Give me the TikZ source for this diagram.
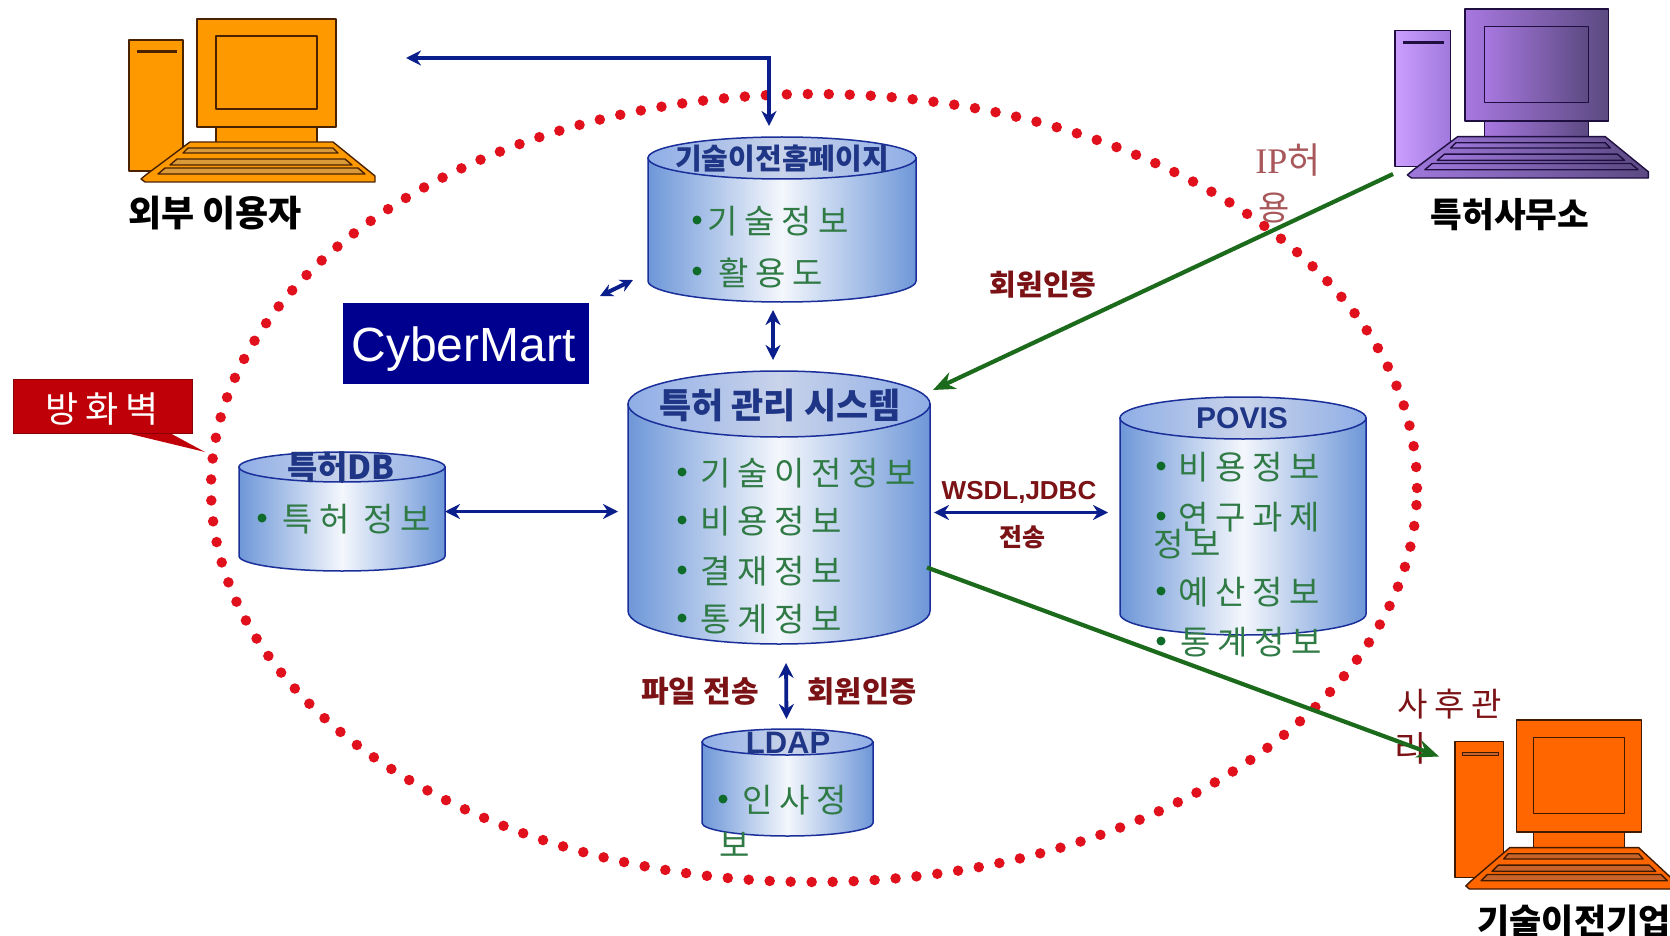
\documentclass[tikz,border=0pt]{standalone}
\usepackage{fontspec}
\setmainfont{Noto Sans CJK KR}
\newfontfamily\hgsp[LetterSpace=20]{Noto Sans CJK KR}
\newfontfamily\latinf{Liberation Sans}
\newfontfamily\latins{Liberation Serif}
\usetikzlibrary{arrows.meta,calc}
\definecolor{cylline}{HTML}{1A2F9A}
\definecolor{cyledge}{HTML}{6E97D8}
\definecolor{cylmid}{HTML}{F4F7FC}
\definecolor{cyltop}{HTML}{8FAEE6}
\definecolor{cyltopmid}{HTML}{C9D3EA}
\definecolor{titleblue}{HTML}{1F3585}
\definecolor{txtgreen}{HTML}{2F7A45}
\definecolor{dotgreen}{HTML}{0F6B2A}
\definecolor{arrowblue}{HTML}{0A1F8C}
\definecolor{arrowgreen}{HTML}{1C6B1C}
\definecolor{labelred}{HTML}{7B1215}
\definecolor{iplabel}{HTML}{A8585A}
\definecolor{dotred}{HTML}{E0101C}
\definecolor{wallred}{HTML}{C00008}
\definecolor{cmblue}{HTML}{00008F}
\definecolor{orangeA}{HTML}{FF9900}
\definecolor{orangeB}{HTML}{FF6600}
\definecolor{rowA}{HTML}{DB9A3A}
\definecolor{rowB}{HTML}{C8642A}
\definecolor{lineA}{HTML}{4A2200}
\definecolor{lineB}{HTML}{401A00}
\definecolor{lineP}{HTML}{1E0F40}
\definecolor{pTowerL}{HTML}{CB9EFF}
\definecolor{pTowerR}{HTML}{A078DC}
\definecolor{pMonL}{HTML}{A878E0}
\definecolor{pMonR}{HTML}{5C4A82}
\newcommand{\fs}[1]{\fontsize{#1}{#1}\selectfont}
\tikzset{
  boxnode/.style={inner sep=0pt,outer sep=0pt,draw=none},
  blarrow/.style={draw=arrowblue,line width=3.8pt,{Stealth[length=15pt,width=15pt]}-{Stealth[length=15pt,width=15pt]}},
  grarrow/.style={draw=arrowgreen,line width=4.2pt,-{Stealth[length=22pt,width=18pt]}},
  gtext/.style={inner sep=0pt,text=txtgreen,anchor=west,font=\hgsp\fs{33},yshift=-1.5pt},
  gdot/.style={circle,fill=dotgreen,inner sep=0pt,minimum size=9pt},
  ctitle/.style={inner sep=0pt,text=titleblue,font=\bfseries\fs{#1}},
  rlabel/.style={inner sep=0pt,text=labelred,font=\bfseries\fs{#1},yshift=-1pt},
  pclabel/.style={inner sep=0pt,text=black,font=\bfseries\fs{#1}},
}
% name, x1, x2, ytop, ry, ybot
\newcommand{\cylinder}[6]{%
  \pgfmathsetmacro{\ccx}{(#2+#3)/2}%
  \pgfmathsetmacro{\crx}{(#3-#2)/2}%
  \pgfmathsetmacro{\cc}{#4+#5}%
  \pgfmathsetmacro{\cb}{#6-#5}%
  \pgfmathsetmacro{\ckx}{0.5523*\crx}%
  \pgfmathsetmacro{\cky}{0.5523*#5}%
  \path[draw=cylline,line width=1.5pt,left color=cyledge,right color=cyledge,middle color=cylmid]
    (#2,\cc) -- (#2,\cb)
    .. controls (#2,\cb+\cky) and (\ccx-\ckx,#6) .. (\ccx,#6)
    .. controls (\ccx+\ckx,#6) and (#3,\cb+\cky) .. (#3,\cb)
    -- (#3,\cc) -- cycle;
  \path[draw=cylline,line width=1.5pt,left color=cyltop,right color=cyltop,middle color=cyltopmid]
    (\ccx,\cc) ellipse [x radius=\crx pt,y radius=#5 pt];
  \pgfmathsetmacro{\cw}{#3-#2}%
  \pgfmathsetmacro{\ch}{#6-#4}%
  \pgfmathsetmacro{\cmy}{(#4+#6)/2}%
  \node[boxnode,minimum width=\cw pt,minimum height=\ch pt] (#1) at (\ccx,\cmy) {};
}
% name, x, y, sx, sy, outline, tower, monitor, screen, keyboard, row, led
\newcommand{\computer}[9]{%
  \def\cpname{#1}\def\cpx{#2}\def\cpy{#3}\def\cpsx{#4}\def\cpsy{#5}\def\cpline{#6}%
  \def\cpT{#7}\def\cpM{#8}\def\cpS{#9}\computerrest}
\newcommand{\computerrest}[3]{%
  \begin{scope}[shift={(\cpx,\cpy)},x=\cpsx pt,y=-\cpsy pt,line width=1.4pt,draw=\cpline,line join=round]
    \expandafter\path\expandafter[\cpT,draw=\cpline] (0,21) rectangle (54,152);
    \path[#3] (8,31) rectangle (48,34);
    \expandafter\path\expandafter[\cpM,draw=\cpline] (87,108) rectangle (188,124);
    \expandafter\path\expandafter[\cpM,draw=\cpline] (68,0) rectangle (207,108);
    \expandafter\path\expandafter[\cpS,draw=\cpline] (87,17) rectangle (188,90);
    \path[#1,draw=\cpline] (61,123) -- (204,123) -- (246,157) -- (246,163) -- (16,163) -- (12,160) -- (18,155) -- cycle;
    \path[#2,draw=\cpline] (59,129) -- (204,129) -- (209,134) -- (54,134) -- cycle;
    \path[#2,draw=\cpline] (48,140) -- (216,140) -- (223,146) -- (41,146) -- cycle;
    \path[#2,draw=\cpline] (36,149) -- (229,149) -- (236,155) -- (29,155) -- cycle;
  \end{scope}
  \pgfmathsetmacro{\cw}{246*\cpsx}%
  \pgfmathsetmacro{\ch}{163*\cpsy}%
  \node[boxnode,minimum width=\cw pt,minimum height=\ch pt] (\cpname) at ({\cpx+\cw/2},{\cpy+\ch/2}) {};
}
% name, bullet x, text x, y, text
\newcommand{\gline}[5]{%
  \node[gdot] (#1-dot) at (#2,#4) {};
  \node[gtext] (#1) at (#3,#4) {#5};
}
\begin{document}
\begin{tikzpicture}[x=1pt,y=-1pt]
\useasboundingbox (0,0) rectangle (1670,936);
\clip (0,0) rectangle (1670,936);
\fill[white] (0,0) rectangle (1670,936);

% firewall boundary
\draw[dotred,line width=10.5pt,line cap=round,dash pattern=on 0pt off 21pt] (814,488) ellipse [x radius=603pt,y radius=394pt];

% computers
\computer{ext}{129}{19}{1}{1}{lineA}
  {fill=orangeA}{fill=orangeA}{fill=orangeA}{fill=orangeA}{fill=rowA}{fill=lineA,draw=none}
\computer{office}{1395}{9}{1.03}{1.037}{lineP}
  {left color=pTowerL,right color=pTowerR}
  {left color=pMonL,right color=pMonR}
  {left color=pMonL,right color=pMonR}
  {left color=pTowerR,right color=pMonR}
  {left color=pTowerR,right color=pMonR}
  {fill=lineP,draw=none}
\computer{firm}{1455}{720}{0.9}{1.037}{lineB}
  {fill=orangeB}{fill=orangeB}{fill=orangeB}{fill=orangeB}{fill=rowB}{fill=rowB,draw=lineB,line width=1.2pt}

\node[pclabel=36,anchor=center] (extlabel) at (215,213) {외부 이용자};
\node[pclabel=34.5,anchor=center] (officelabel) at (1510,215) {특허사무소};
\node[pclabel=35,anchor=center] (firmlabel) at (1574,921) {기술이전기업};

% CyberMart
\node[boxnode,fill=cmblue,minimum width=246pt,minimum height=81pt] (cm) at (466,343.5) {};
\node[inner sep=0pt,text=white,font=\latinf\fs{48}] (cmtext) at (463.5,349) {CyberMart};

% firewall callout
\fill[wallred] (122,432) -- (205,452) -- (168,432) -- cycle;
\node[boxnode,fill=wallred,draw=black!30!wallred,line width=1pt,minimum width=179pt,minimum height=54pt] (wall) at (103,406) {};
\node[inner sep=0pt,text=white,font=\hgsp\fs{36}] (walltext) at (102,409) {방화벽};

% cylinders
\cylinder{home}{648}{916}{137}{21}{302}
\cylinder{mainsys}{628}{930}{371}{33}{644}
\cylinder{povis}{1120}{1366}{397}{21}{635}
\cylinder{patdb}{239}{445}{452}{15}{571}
\cylinder{ldap}{702}{873}{729}{13}{836}

% cylinder titles
\node[ctitle=29] (hometitle) at (782,159) {기술이전홈페이지};
\node[ctitle=35] (maintitle) at (780,405) {특허 관리 시스템};
\node[ctitle=30,font=\latinf\bfseries\fs{30}] (povistitle) at (1242,418) {POVIS};
\node[ctitle=33] (dbtitle) at (341,467) {특허DB};
\node[ctitle=31,font=\latinf\bfseries\fs{31}] (ldaptitle) at (788,743) {LDAP};

% cylinder contents
\gline{h1}{697}{707}{220}{기술정보}
\gline{h2}{697}{718}{271}{활용도}
\gline{m1}{682}{700}{472}{기술이전정보}
\gline{m2}{682}{700}{520}{비용정보}
\gline{m3}{682}{700}{570}{결재정보}
\gline{m4}{682}{700}{618}{통계정보}
\gline{p1}{1161}{1178}{466}{비용정보}
\gline{p2}{1161}{1178}{516}{연구과제}
\node[gtext] (p2b) at (1153,543) {정보};
\gline{p3}{1161}{1178}{591}{예산정보}
\gline{p4}{1161}{1180}{641}{통계정보}
\gline{d1}{262}{282}{518}{특허 정보}
\gline{l1}{723}{742}{799}{인사정}
\node[gtext] (l1b) at (719,843) {보};

% labels
\node[rlabel=29] (auth1) at (1043,284) {회원인증};
\node[rlabel=26,font=\latinf\bfseries\fs{26}] (wsdl) at (1019,491) {WSDL,JDBC};
\node[rlabel=25] (xfer) at (1022,536) {전송};
\node[rlabel=30] (file) at (700,690) {파일 전송};
\node[rlabel=29.5] (auth2) at (862,690) {회원인증};
\node[inner sep=0pt,text=iplabel,font=\fs{36}] (ip1) at (1288,160) {{\latins IP}허};
\node[inner sep=0pt,text=iplabel,font=\fs{34}] (ip2) at (1274,208) {용};
\node[inner sep=0pt,text=labelred,font=\hgsp\fs{33}] (after1) at (1450,704) {사후관};
\node[inner sep=0pt,text=labelred,font=\fs{35}] (after2) at (1411,748) {리};

% connectors
\draw[blarrow,line width=3.2pt] ([xshift=31pt,yshift=-39pt]ext.north east) -| ([xshift=-13pt,yshift=11pt]home.north);
\draw[draw=arrowblue,line width=4pt,{Stealth[length=13pt,width=13pt]}-{Stealth[length=13pt,width=13pt]}] ([xshift=11pt,yshift=7pt]cm.north east) -- ([xshift=-15pt,yshift=22pt]home.south west);
\draw[blarrow] ([xshift=-9pt,yshift=-8pt]home.south) -- ([xshift=-6pt,yshift=11pt]mainsys.north);
\draw[blarrow,shorten >=10pt] (patdb.east) -- (patdb.east -| mainsys.west);
\draw[blarrow,shorten <=4pt,shorten >=12pt] ([yshift=-5pt]mainsys.east) -- ([yshift=-5pt]mainsys.east -| povis.west);
\draw[blarrow] ([xshift=7pt,yshift=-19pt]mainsys.south) -- ([xshift=-1pt,yshift=10pt]ldap.north);
\draw[grarrow] ([xshift=-2pt,yshift=4pt]office.south west) -- ([xshift=3pt,yshift=-19pt]mainsys.north east);
\draw[grarrow] ([xshift=-3pt,yshift=-60pt]mainsys.east) -- ([xshift=-16pt,yshift=48pt]firm.west);
\end{tikzpicture}
\end{document}
